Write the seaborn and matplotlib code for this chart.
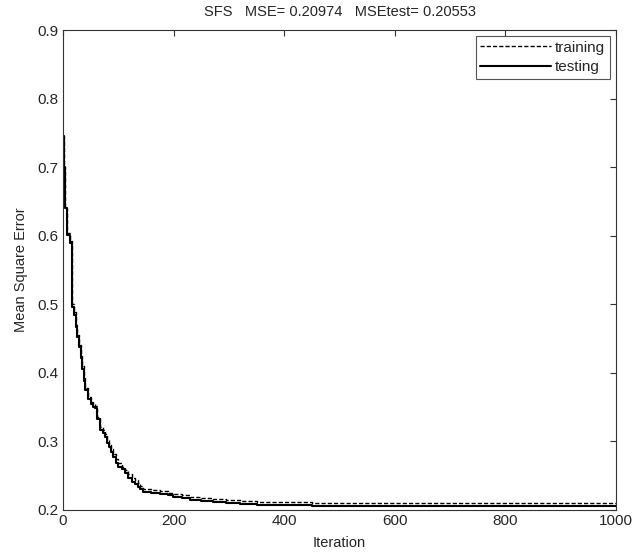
import numpy as np
import pandas as pd
import matplotlib
matplotlib.use("Agg")
import matplotlib.pyplot as plt
import seaborn as sns

# step points (iteration, MSE)
train_iter = [0, 2, 4, 7, 12, 17, 20, 23, 26, 29, 32, 35, 38, 40, 45, 50, 55, 58, 62,
              67, 72, 76, 80, 84, 87, 90, 95, 100, 106, 112, 118, 125, 130, 135, 140,
              145, 160, 175, 190, 199, 215, 230, 250, 271, 295, 320, 350, 392, 450,
              500, 600, 700, 1000]
train_mse = [0.745, 0.70, 0.64, 0.604, 0.592, 0.50, 0.488, 0.47, 0.455, 0.441, 0.425,
             0.41, 0.392, 0.378, 0.364, 0.358, 0.354, 0.352, 0.336, 0.321, 0.316, 0.311,
             0.302, 0.295, 0.289, 0.282, 0.274, 0.268, 0.263, 0.258, 0.252, 0.246,
             0.243, 0.239, 0.235, 0.231, 0.229, 0.227, 0.225, 0.223, 0.221, 0.219,
             0.217, 0.216, 0.214, 0.213, 0.212, 0.211, 0.2105, 0.2102, 0.2099, 0.2098,
             0.2097]
test_iter = [0, 2, 4, 7, 12, 17, 20, 23, 26, 29, 32, 35, 38, 40, 45, 50, 55, 58, 62,
             67, 72, 76, 80, 84, 87, 90, 95, 100, 106, 112, 118, 125, 130, 135, 140,
             145, 160, 175, 190, 199, 215, 230, 250, 271, 295, 320, 350, 392, 450,
             500, 600, 700, 1000]
test_mse = [0.745, 0.70, 0.64, 0.601, 0.589, 0.496, 0.484, 0.467, 0.452, 0.438, 0.421,
            0.405, 0.388, 0.375, 0.361, 0.355, 0.350, 0.348, 0.332, 0.317, 0.312, 0.307,
            0.298, 0.291, 0.284, 0.277, 0.269, 0.263, 0.259, 0.254, 0.247, 0.241,
            0.238, 0.234, 0.230, 0.226, 0.225, 0.223, 0.221, 0.219, 0.217, 0.215,
            0.213, 0.211, 0.2095, 0.208, 0.207, 0.2065, 0.2061, 0.2058, 0.2056, 0.2055,
            0.2055]

sns.set_style("white")
plt.rcParams["font.family"] = ["Liberation Sans", "DejaVu Sans"]

train = pd.DataFrame({"Iteration": train_iter, "MSE": train_mse})
test = pd.DataFrame({"Iteration": test_iter, "MSE": test_mse})

fig, ax = plt.subplots(figsize=(6.34, 5.56), dpi=100)
sns.lineplot(data=train, x="Iteration", y="MSE", ax=ax, color="black", linewidth=1.0,
             linestyle=(0, (3, 1.5)), drawstyle="steps-post", label="training")
sns.lineplot(data=test, x="Iteration", y="MSE", ax=ax, color="black", linewidth=1.5,
             drawstyle="steps-post", label="testing")

ax.set_xlim(0, 1000)
ax.set_ylim(0.2, 0.9)
ax.set_xticks([0, 200, 400, 600, 800, 1000])
ax.set_yticks(np.round(np.arange(0.2, 0.91, 0.1), 1))
ax.set_yticklabels(["0.2", "0.3", "0.4", "0.5", "0.6", "0.7", "0.8", "0.9"])
ax.tick_params(direction="in", top=True, right=True, length=4, labelsize=11, pad=3,
               color="#333333")
for s in ax.spines.values():
    s.set_color("#333333")
    s.set_linewidth(0.8)
ax.set_xlabel("Iteration", fontsize=10.5, labelpad=6)
ax.set_ylabel("Mean Square Error", fontsize=10.5, labelpad=7)
ax.set_title("SFS   MSE= 0.20974   MSEtest= 0.20553", fontsize=10.5, pad=10)

leg = ax.legend(loc="upper right", fontsize=11, fancybox=False, framealpha=1,
                edgecolor="#555555", borderaxespad=0.4, handlelength=4.6,
                handletextpad=0.3, borderpad=0.3, labelspacing=0.35)
leg.get_frame().set_linewidth(0.8)

fig.subplots_adjust(left=0.0994, right=0.9716, top=0.946, bottom=0.083)
fig.savefig("out.png", dpi=100)
